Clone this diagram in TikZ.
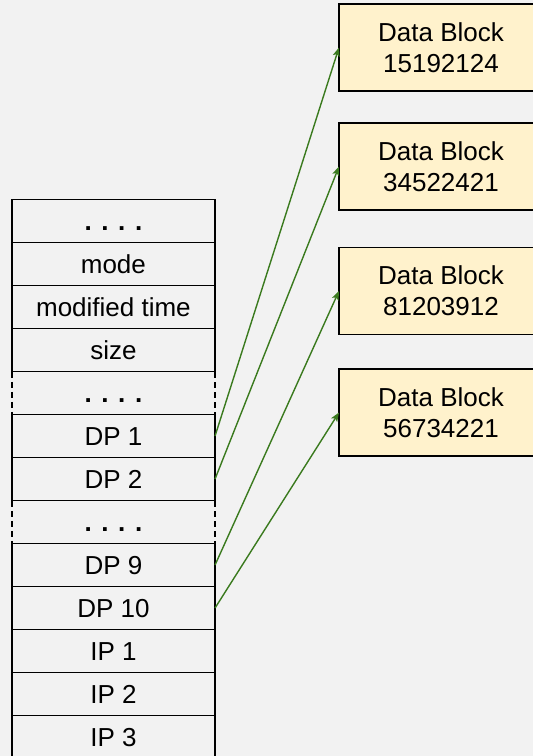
\documentclass[tikz,border=0pt]{standalone}
\usepackage{fontspec}
\setmainfont{Liberation Sans}
\usetikzlibrary{arrows.meta}
\definecolor{bgc}{HTML}{F2F2F2}
\definecolor{blockfill}{HTML}{FFF2CC}
\definecolor{arrowgreen}{HTML}{3A7A1E}
\tikzset{
  cell/.style={draw=black, line width=1.5pt, minimum width=203.3pt, minimum height=43pt,
    inner sep=0pt, outer sep=0pt, text height=18.6pt, text depth=0pt,
    font=\fontsize{26}{31}\selectfont},
  dashcell/.style={cell, dash pattern=on 6pt off 4pt},
  datablock/.style={draw=black, fill=blockfill, line width=1.5pt, minimum width=204pt,
    minimum height=87pt, inner sep=0pt, outer sep=0pt, align=center, text depth=0pt,
    font=\fontsize{26}{31}\selectfont},
  ptr/.style={draw=arrowgreen, line width=1.4pt, -{Stealth[length=9pt,width=7pt,inset=2pt]}}
}
\begin{document}
\begin{tikzpicture}[x=1pt,y=-1pt]
\useasboundingbox (0,0) rectangle (533,756);
\clip (0,0) rectangle (533,756);
\fill[bgc] (0,0) rectangle (533,756);
% dashed rows first
\node[dashcell] (gap1) at (113.4,393) {\textbf{. . . .}};
\node[dashcell] (gap2) at (113.4,522) {\textbf{. . . .}};
% solid rows
\node[cell] (r0) at (113.4,221) {\textbf{. . . .}};
\node[cell] (mode) at (113.4,264) {mode};
\node[cell] (mtime) at (113.4,307) {modified time};
\node[cell] (size) at (113.4,350) {size};
\node[cell] (dp1) at (113.4,436) {DP 1};
\node[cell] (dp2) at (113.4,479) {DP 2};
\node[cell] (dp9) at (113.4,565) {DP 9};
\node[cell] (dp10) at (113.4,608) {DP 10};
\node[cell] (ip1) at (113.4,651) {IP 1};
\node[cell] (ip2) at (113.4,694) {IP 2};
\node[cell] (ip3) at (113.4,737) {IP 3};
% data blocks
\node[datablock] (b1) at (441,47.5) {Data Block\\15192124};
\node[datablock] (b2) at (441,166.5) {Data Block\\34522421};
\node[datablock] (b3) at (441,291) {Data Block\\81203912};
\node[datablock] (b4) at (441,412.5) {Data Block\\56734221};
% pointers
\draw[ptr] (dp1.east) -- (b1.west);
\draw[ptr] (dp2.east) -- (b2.west);
\draw[ptr] (dp9.east) -- (b3.west);
\draw[ptr] (dp10.east) -- (b4.west);
\end{tikzpicture}
\end{document}
